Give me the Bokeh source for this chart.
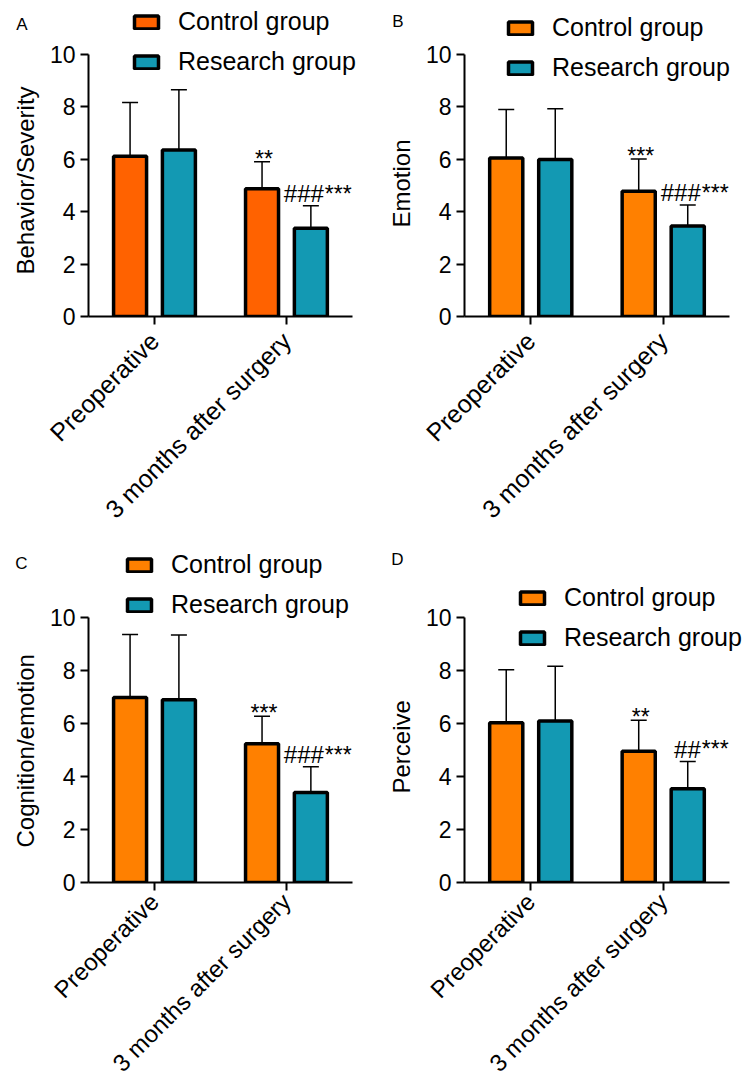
import math
from bokeh.plotting import figure
from bokeh.models import (Range1d, FixedTicker, Whisker, TeeHead, LinearAxis,
                          ColumnDataSource, Legend, LegendItem, Title)
from bokeh.transform import dodge
from bokeh.layouts import row, column
from bokeh.embed import file_html
from bokeh.resources import INLINE
from bokeh.core.properties import value

categories = ["Preoperative", "3 months after surgery"]
groups = ["Control group", "Research group"]
y_ticks = [0, 2, 4, 6, 8, 10]

# Panel A
a_ylabel = "Behavior/Severity"
a_control = [6.11, 4.87]
a_control_sd = [2.04, 1.03]
a_research = [6.34, 3.36]
a_research_sd = [2.30, 0.86]
a_control_sig = ["", "**"]
a_research_hash = ["", "###"]
a_research_star = ["", "***"]

# Panel B
b_ylabel = "Emotion"
b_control = [6.04, 4.77]
b_control_sd = [1.85, 1.23]
b_research = [5.98, 3.45]
b_research_sd = [1.94, 0.80]
b_control_sig = ["", "***"]
b_research_hash = ["", "###"]
b_research_star = ["", "***"]

# Panel C
c_ylabel = "Cognition/emotion"
c_control = [6.98, 5.24]
c_control_sd = [2.38, 1.03]
c_research = [6.90, 3.40]
c_research_sd = [2.44, 0.97]
c_control_sig = ["", "***"]
c_research_hash = ["", "###"]
c_research_star = ["", "***"]

# Panel D
d_ylabel = "Perceive"
d_control = [6.03, 4.95]
d_control_sd = [2.00, 1.17]
d_research = [6.09, 3.54]
d_research_sd = [2.07, 1.03]
d_control_sig = ["", "**"]
d_research_hash = ["", "##"]
d_research_star = ["", "***"]

FONT = "Liberation Sans"
RES_COLOR = "#1399B3"


def panel(letter, ylabel, ctrl, ctrl_sd, res, res_sd, ctrl_sig, res_hash, res_star,
          ctrl_color, width, height, xmax, ymax, b_right, b_top, b_bottom,
          legend_xy, ylabel_offset, letter_y, xlabel_standoff, xlabel_size):
    p = figure(x_range=Range1d(0, xmax), y_range=Range1d(0, ymax),
               width=width, height=height,
               output_backend="svg", toolbar_location=None,
               min_border_left=88, min_border_right=b_right,
               min_border_top=b_top, min_border_bottom=b_bottom)
    p.outline_line_color = None
    p.xgrid.visible = False
    p.ygrid.visible = False

    pos = [i + 0.5 for i in range(len(categories))]
    src = ColumnDataSource(dict(
        pos=pos,
        ctrl=ctrl,
        ctrl_top=[m + s for m, s in zip(ctrl, ctrl_sd)],
        res=res,
        res_top=[m + s for m, s in zip(res, res_sd)],
        ctrl_sig=ctrl_sig,
        res_hash=res_hash,
        res_star=res_star,
    ))
    off = 0.185
    xc = dodge('pos', -off)
    xr = dodge('pos', off)

    for xx, lo, hi in ((xc, 'ctrl', 'ctrl_top'), (xr, 'res', 'res_top')):
        w = Whisker(source=src, base=xx, lower=lo, upper=hi, dimension="height",
                    line_color="black", line_width=1.5, lower_head=None,
                    upper_head=TeeHead(size=16, line_color="black", line_width=1.5),
                    level="underlay")
        p.add_layout(w)

    r1 = p.vbar(x=xc, top='ctrl', width=0.25, source=src, fill_color=ctrl_color,
                line_color="black", line_width=3.5)
    r2 = p.vbar(x=xr, top='res', width=0.25, source=src, fill_color=RES_COLOR,
                line_color="black", line_width=3.5)

    p.text(x=xc, y='ctrl_top', text='ctrl_sig', source=src, text_align="center",
           text_baseline="alphabetic", x_offset=2, y_offset=-3,
           text_font=value(FONT), text_font_size="23px", text_color="black")
    p.text(x=xr, y='res_top', text='res_hash', source=src, text_align="right",
           text_baseline="alphabetic", x_offset=13, y_offset=-12,
           text_font=value(FONT), text_font_size="24px", text_color="black")
    p.text(x=xr, y='res_top', text='res_star', source=src, text_align="left",
           text_baseline="alphabetic", x_offset=14, y_offset=-12,
           text_font=value(FONT), text_font_size="23px", text_color="black")

    legend = Legend(items=[LegendItem(label=groups[0], renderers=[r1]),
                           LegendItem(label=groups[1], renderers=[r2])],
                    location=legend_xy, orientation="vertical")
    legend.background_fill_alpha = 0
    legend.border_line_color = None
    legend.padding = 0
    legend.margin = 0
    legend.spacing = 11
    legend.glyph_width = 30
    legend.glyph_height = 16
    legend.label_height = 16
    legend.label_standoff = 17
    legend.label_text_font = FONT
    legend.label_text_font_size = "25px"
    legend.label_text_color = "black"
    p.add_layout(legend)

    xax = p.xaxis[0]
    yax = p.yaxis[0]
    for ax in (xax, yax):
        ax.axis_line_width = 2
        ax.axis_line_color = "black"
        ax.major_tick_line_width = 2
        ax.major_tick_line_color = "black"
        ax.major_tick_out = 8
        ax.major_tick_in = 0
        ax.minor_tick_line_color = None
        ax.major_label_text_font = FONT
        ax.major_label_text_color = "black"
    yax.major_label_text_font_size = "23px"
    yax.ticker = FixedTicker(ticks=y_ticks)
    yax.bounds = (0, 10)
    yax.major_label_standoff = 5
    xax.major_label_text_font_size = xlabel_size
    xax.ticker = FixedTicker(ticks=pos)
    xax.major_label_overrides = {v: c for v, c in zip(pos, categories)}
    xax.bounds = (-0.083, len(categories))
    xax.major_label_orientation = math.pi / 4
    xax.major_label_standoff = xlabel_standoff

    p.add_layout(Title(text=ylabel, align="left", offset=ylabel_offset,
                       vertical_align="bottom", standoff=16,
                       text_font=FONT, text_font_size="24px",
                       text_font_style="normal", text_color="black"), "left")

    # panel letter, drawn as the only tick label of a bare extra axis
    lax = LinearAxis(ticker=FixedTicker(ticks=[letter_y]),
                     major_label_overrides={letter_y: letter},
                     axis_line_color=None, major_tick_line_color=None,
                     minor_tick_line_color=None, major_tick_out=0, major_tick_in=0,
                     major_label_standoff=-26, major_label_text_font=FONT,
                     major_label_text_font_size="17px",
                     major_label_text_color="black")
    p.add_layout(lax, "left")
    return p


pa = panel("A", a_ylabel, a_control, a_control_sd, a_research, a_research_sd,
           a_control_sig, a_research_hash, a_research_star, "#FF6200",
           376, 536, 2.152, 11.85, 4, 5, 217, (43, 240), 42, 11.13, 12, "25px")
pb = panel("B", b_ylabel, b_control, b_control_sd, b_research, b_research_sd,
           b_control_sig, b_research_hash, b_research_star, "#FF8000",
           369, 536, 2.121, 11.85, 0, 5, 217, (41, 234), 89, 11.25, 12, "25px")
pc = panel("C", c_ylabel, c_control, c_control_sd, c_research, c_research_sd,
           c_control_sig, c_research_hash, c_research_star, "#FF8000",
           376, 553, 2.152, 12.717, 4, 9, 207, (36, 263), 35, 12.04, 7, "24px")
pd = panel("D", d_ylabel, d_control, d_control_sd, d_research, d_research_sd,
           d_control_sig, d_research_hash, d_research_star, "#FF8000",
           369, 553, 2.121, 12.717, 0, 9, 207, (53, 230), 89, 12.19, 7, "24px")

layout = column(row(pa, pb), row(pc, pd))
open("out.html", "w").write(file_html(layout, INLINE))
